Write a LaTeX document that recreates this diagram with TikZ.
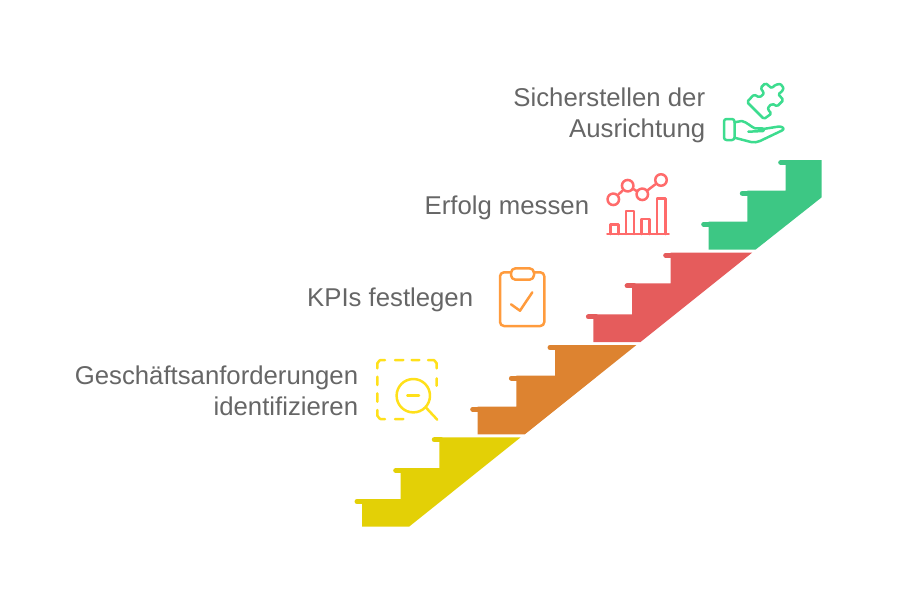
\documentclass[tikz,border=0pt]{standalone}
\usepackage[svgnames]{xcolor}
\usepackage{fontspec}
\usepackage{tikz}
\setmainfont{Liberation Sans}
\definecolor{stepyellow}{HTML}{E3D006}
\definecolor{steporange}{HTML}{DD8330}
\definecolor{stepred}{HTML}{E55C5C}
\definecolor{stepgreen}{HTML}{3DC784}
\definecolor{iconyellow}{HTML}{FFE01A}
\definecolor{iconorange}{HTML}{FF9B3D}
\definecolor{iconred}{HTML}{FF6B6B}
\definecolor{icongreen}{HTML}{3DDC8F}
\definecolor{labelgray}{HTML}{666666}

\begin{document}
\begin{tikzpicture}
  [x=.02cm,y=-.02cm,
   every node/.style={text=labelgray,align=right,anchor=east,inner sep=0pt,font=\fontsize{14.65}{17.6}\selectfont},
   nose/.style={line width=.1cm,line cap=round},
   icon/.style={line width=.05cm,line cap=round,line join=round},
   dot/.style={draw=iconred,circle,line width=.05cm,minimum size=.23cm,anchor=center}]
  \useasboundingbox (0,0) rectangle (900,600);

  \node (l1) at (358.5,390.5) {Geschäftsanforderungen\\identifizieren};
  \node (l2) at (473.5,299.5) {KPIs festlegen};
  \node (l3) at (589.5,207.5) {Erfolg messen};
  \node (l4) at (705.5,115) {Sicherstellen der\\Ausrichtung};

  \fill[stepyellow] (362,526.7) -- (362,499) -- (400.7,499) -- (400.7,468) -- (439.3,468) -- (439.3,437.3) -- (520.7,437.3) -- (409,526.7) -- cycle;
  \draw[nose,stepyellow] (357,501.5) -- (364,501.5);
  \draw[nose,stepyellow] (395.7,470.5) -- (403,470.5);
  \draw[nose,stepyellow] (434.3,439.8) -- (441,439.8);

  \fill[steporange] (477.7,434.4) -- (477.7,406.7) -- (516.4,406.7) -- (516.4,375.7) -- (555,375.7) -- (555,345) -- (636.4,345) -- (524.7,434.4) -- cycle;
  \draw[nose,steporange] (472.7,409.2) -- (480,409.2);
  \draw[nose,steporange] (511.4,378.2) -- (519,378.2);
  \draw[nose,steporange] (550,347.5) -- (557,347.5);

  \fill[stepred] (593.4,342.1) -- (593.4,314.4) -- (632.1,314.4) -- (632.1,283.4) -- (670.7,283.4) -- (670.7,252.7) -- (752.1,252.7) -- (640.4,342.1) -- cycle;
  \draw[nose,stepred] (588.4,316.9) -- (596,316.9);
  \draw[nose,stepred] (627.1,285.9) -- (634,285.9);
  \draw[nose,stepred] (665.7,255.2) -- (673,255.2);

  \fill[stepgreen] (708.7,249.5) -- (708.7,221.7) -- (747.3,221.7) -- (747.3,190.7) -- (785.7,190.7) -- (785.7,160) -- (821.7,160) -- (821.7,197.3) -- (755.7,249.5) -- cycle;
  \draw[nose,stepgreen] (703.7,224.2) -- (711,224.2);
  \draw[nose,stepgreen] (742.3,193.2) -- (750,193.2);
  \draw[nose,stepgreen] (780.7,162.5) -- (788,162.5);

  \draw[icon,iconyellow] (377.3,368.3) -- (377.3,363) to[out=-90,in=180] (380.5,360) -- (385,360)
    (395,360) -- (403.3,360) (411.7,360) -- (419.3,360) (428,360) -- (433.5,360) to[out=0,in=-90] (436.7,363) -- (436.7,368.3)
    (436.7,378.3) -- (436.7,385.7)
    (377.3,376.7) -- (377.3,385) (377.3,393.3) -- (377.3,401.7)
    (377.3,410) -- (377.3,416) to[out=90,in=180] (380.5,419) -- (385,419)
    (395,419) -- (403.3,419);
  \draw[icon,iconyellow] (413.3,395.7) circle (16.7);
  \draw[icon,iconyellow] (425.7,407.3) -- (437.3,419.7);
  \draw[icon,iconyellow] (407.3,395.7) -- (419,395.7);

  \draw[icon,iconorange,rounded corners=.08cm] (511,272.3) -- (500,272.3) -- (500,326) -- (544.3,326) -- (544.3,272.3) -- (534,272.3);
  \draw[icon,iconorange,rounded corners=.09cm] (511,268.3) rectangle (534,279.7);
  \draw[icon,iconorange] (511,304.3) -- (520,310.7) -- (532.3,292.3);

  \node[dot] (c1) at (613.3,199.3) {};
  \node[dot] (c2) at (627.7,185.7) {};
  \node[dot] (c3) at (642.3,194.3) {};
  \node[dot] (c4) at (661,180) {};
  \draw[icon,iconred] (c1) -- (c2);
  \draw[icon,iconred] (c2) -- (c3);
  \draw[icon,iconred] (c3) -- (c4);
  \draw[icon,iconred] (607.3,234) -- (668.7,234);
  \draw[icon,iconred] (610.7,234) -- (610.7,224.3) -- (618.7,224.3) -- (618.7,234);
  \draw[icon,iconred] (626,234) -- (626,211) -- (634,211) -- (634,234);
  \draw[icon,iconred] (641.7,234) -- (641.7,219) -- (649.7,219) -- (649.7,234);
  \draw[icon,iconred] (657,234) -- (657,198.3) -- (665.3,198.3) -- (665.3,234);

  \draw[icon,icongreen,rounded corners=.05cm] (724,119) rectangle (734.5,140);
  \draw[icon,icongreen] (734.5,122.3) -- (741.7,121) .. controls (747,122) and (751,127) .. (755,128.3) -- (762,128.3)
    .. controls (764,128.3) and (765,131) .. (763,131) -- (748.3,131.7);
  \draw[icon,icongreen] (763,129) -- (779,126.5) .. controls (783,126.5) and (785,129) .. (782,130.5)
    -- (760,141) .. controls (757,142.5) and (754,142.5) .. (751,142) -- (734.5,137.7);
  \draw[icon,icongreen,rounded corners=.03cm] (747,102) -- (754,94.5) .. controls (757,96) and (759,98) .. (762,95.5)
    .. controls (764.5,93) and (762,90) .. (760.5,88) -- (765.5,83) -- (772,88.5) .. controls (774,85) and (780,83) .. (782,86)
    .. controls (784.5,89) and (781,92.5) .. (778,94) -- (783.5,100) -- (777,106.5) .. controls (775,105) and (772,103) .. (769.5,106)
    .. controls (767,109) and (770,112) .. (771.5,113.5) -- (764,119) -- cycle;
\end{tikzpicture}
\end{document}
